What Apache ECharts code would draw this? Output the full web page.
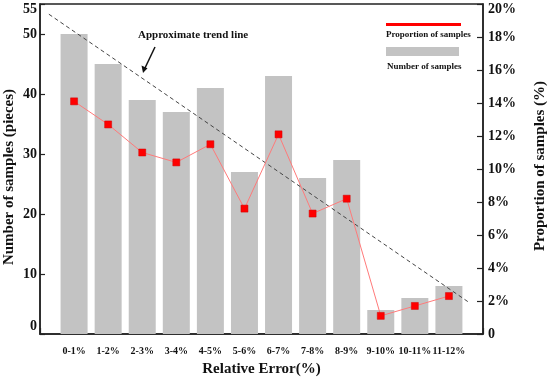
<!DOCTYPE html>
<html>
<head>
<meta charset="utf-8">
<script src="https://cdn.jsdelivr.net/npm/echarts@6/dist/echarts.min.js"></script>
<style>html,body{margin:0;padding:0;background:#fff;}#c{width:550px;height:379px;}</style>
</head>
<body>
<div id="c"></div>
<script>
var categories = ['0-1%','1-2%','2-3%','3-4%','4-5%','5-6%','6-7%','7-8%','8-9%','9-10%','10-11%','11-12%'];
var sampleCounts = [50, 45, 39, 37, 41, 27, 43, 26, 29, 4, 6, 8];
var proportions = [14.1, 12.7, 11.0, 10.4, 11.5, 7.6, 12.1, 7.3, 8.2, 1.1, 1.7, 2.3];
var trendStart = [0.26, 53.3];
var trendEnd = [12.58, 5.3];

var F = '"Liberation Serif", "Times New Roman", serif';
var chart = echarts.init(document.getElementById('c'), null, {renderer: 'canvas'});

var barData = sampleCounts.map(function (v, i) { return [i + 1, v]; });
var lineData = proportions.map(function (v, i) { return [i + 1, v]; });
var lblStyle = { fontFamily: F, fontWeight: 'bold', fontSize: 14, color: '#111' };

chart.setOption({
  animation: false,
  backgroundColor: '#fff',
  grid: { left: 40, right: 67, top: 4, bottom: 45, containLabel: false, outerBoundsMode: 'none', show: true, borderColor: '#222', borderWidth: 1.5, backgroundColor: 'transparent' },
  xAxis: {
    type: 'value', min: 0, max: 13, interval: 1,
    name: 'Relative Error(%)', nameLocation: 'middle', nameGap: 28, nameMoveOverlap: false,
    nameTextStyle: { fontFamily: F, fontWeight: 'bold', fontSize: 15, color: '#111' },
    axisLine: { show: true, lineStyle: { color: '#222', width: 1.5 } },
    axisTick: { show: true, inside: true, length: 6, lineStyle: { color: '#222', width: 1.2 } },
    splitLine: { show: false },
    axisLabel: {
      margin: 12, fontFamily: F, fontWeight: 'bold', fontSize: 10, color: '#111',
      formatter: function (v) { return (v >= 1 && v <= 12) ? categories[v - 1] : ''; }
    }
  },
  yAxis: [
    {
      type: 'value', min: 0, max: 55, interval: 10,
      name: 'Number of samples (pieces)', nameLocation: 'middle', nameGap: 23, nameRotate: 90, nameMoveOverlap: false,
      nameTextStyle: { fontFamily: F, fontWeight: 'bold', fontSize: 15, color: '#111', padding: [0, 16, 0, 0] },
      axisLine: { show: true, lineStyle: { color: '#222', width: 1.5 } },
      axisTick: { show: true, inside: true, length: 5, lineStyle: { color: '#222', width: 1.2 } },
      splitLine: { show: false },
      axisLabel: {
        margin: 3, fontFamily: F, fontWeight: 'bold', fontSize: 14, color: '#111',
        formatter: function (v) {
          if (v === 0) return '{z|0}';
          if (v === 55) return '{t|55}';
          return String(v);
        },
        rich: {
          z: Object.assign({ padding: [0, 0, 16, 0] }, lblStyle),
          t: Object.assign({ padding: [10, 0, 0, 0] }, lblStyle)
        }
      }
    },
    {
      type: 'value', min: 0, max: 20, interval: 2, position: 'right',
      name: 'Proportion of samples (%)', nameLocation: 'middle', nameGap: 50, nameRotate: 90, nameMoveOverlap: false,
      nameTextStyle: { fontFamily: F, fontWeight: 'bold', fontSize: 15, color: '#111', padding: [0, 0, 0, 6] },
      axisLine: { show: true, lineStyle: { color: '#222', width: 1.5 } },
      axisTick: { show: true, inside: true, length: 6, lineStyle: { color: '#222', width: 1.2 } },
      splitLine: { show: false },
      axisLabel: {
        margin: 5, fontFamily: F, fontWeight: 'bold', fontSize: 14, color: '#111',
        formatter: function (v) {
          if (v === 0) return '0';
          if (v === 20) return '{t|20%}';
          return v + '%';
        },
        rich: { t: Object.assign({ padding: [10, 0, 0, 0] }, lblStyle) }
      }
    }
  ],
  series: [
    {
      name: 'Number of samples', type: 'bar', yAxisIndex: 0, barWidth: 27,
      itemStyle: { color: '#c3c3c3' }, data: barData, z: 1
    },
    {
      name: 'Approximate trend line', type: 'line', yAxisIndex: 0, symbol: 'none',
      lineStyle: { color: '#444', width: 1, type: [4, 3] }, data: [trendStart, trendEnd], z: 2
    },
    {
      name: 'Proportion of samples', type: 'line', yAxisIndex: 1,
      symbol: 'rect', symbolSize: 7,
      itemStyle: { color: '#ff0000', borderColor: '#d00000', borderWidth: 0.5 },
      lineStyle: { color: '#ff7a7a', width: 1 }, data: lineData, z: 3
    }
  ],
  graphic: [
    { type: 'text', left: 138, top: 30, style: { text: 'Approximate trend line', font: 'bold 11px ' + F, fill: '#111' } },
    { type: 'line', shape: { x1: 155, y1: 47, x2: 145, y2: 68 }, style: { stroke: '#111', lineWidth: 1.5 } },
    { type: 'polygon', shape: { points: [[143, 73], [141.5, 65.5], [147.5, 68.3]] }, style: { fill: '#111' } },
    { type: 'rect', shape: { x: 386, y: 23, width: 75, height: 3 }, style: { fill: '#ff0000' } },
    { type: 'text', left: 386, top: 30, style: { text: 'Proportion of samples', font: 'bold 9px ' + F, fill: '#111' } },
    { type: 'rect', shape: { x: 386, y: 47, width: 73, height: 9 }, style: { fill: '#c3c3c3' } },
    { type: 'text', left: 387, top: 62, style: { text: 'Number of samples', font: 'bold 9px ' + F, fill: '#111' } }
  ]
});
</script>
</body>
</html>
